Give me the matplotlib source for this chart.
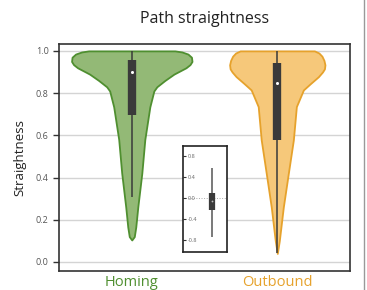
import numpy as np
import matplotlib
matplotlib.use("Agg")
import matplotlib.pyplot as plt

plt.rcParams['font.family'] = ['Open Sans', 'DejaVu Sans']

# categories and colours
groups = ['Homing', 'Outbound']
fill_cols = ['#93b976', '#f6c87a']
edge_cols = ['#4f8f30', '#e6a22c']

# violin outlines: y value and half width (in px, 145 px per unit)
homing_y = [1.0, 0.995, 0.985, 0.97, 0.95, 0.935, 0.92, 0.905, 0.89, 0.86, 0.83, 0.81,
            0.735, 0.58, 0.42, 0.26, 0.166, 0.12, 0.104]
homing_hw = [43, 50, 56, 59.5, 60, 58, 54, 48, 42, 33, 25, 22, 18, 13, 10, 6, 4, 2.5, 0]
outb_y = [1.0, 0.99, 0.975, 0.955, 0.934, 0.915, 0.90, 0.878, 0.845, 0.815, 0.736, 0.578,
          0.42, 0.26, 0.10, 0.04]
outb_hw = [37, 41.5, 44.5, 46.5, 47.5, 47, 45, 41, 33, 26, 19, 16, 11, 6, 2, 0]

# box stats: q1, q3, median, whisker low, whisker high
q1 = [0.697, 0.578]
q3 = [0.957, 0.945]
med = [0.90, 0.847]
wlo = [0.31, 0.04]
whi = [1.0, 1.0]

# inset box plot
ins_q1, ins_q3, ins_med, ins_lo, ins_hi = -0.23, 0.10, -0.045, -0.73, 0.58
ins_ticks = [0.8, 0.4, 0.0, -0.4, -0.8]

fig = plt.figure(figsize=(3.67, 2.90), dpi=100)
ax = fig.add_axes([0.1608, 0.0655, 0.793, 0.783])

profiles = [(homing_y, homing_hw), (outb_y, outb_hw)]
for i, (yy, hw) in enumerate(profiles):
    hw = np.array(hw) / 145.0
    ax.fill_betweenx(yy, i - hw, i + hw, facecolor=fill_cols[i], edgecolor=edge_cols[i],
                     linewidth=1.3, zorder=2)
    ax.vlines(i, wlo[i], whi[i], color='#3a3a3a', lw=1.1, zorder=3)
    ax.vlines(i, q1[i], q3[i], color='#3a3a3a', lw=6, zorder=3)
    ax.plot(i, med[i], 'o', ms=2.2, color='white', mec='none', zorder=4)

ax.set_xlim(-0.5, 1.5)
ax.set_ylim(-0.043, 1.033)
ax.set_yticks([0.0, 0.2, 0.4, 0.6, 0.8, 1.0])
ax.set_yticklabels(['0.0', '0.2', '0.4', '0.6', '0.8', '1.0'])
ax.grid(axis='y', color='#d4d4d4', lw=1.0, zorder=0)
ax.set_axisbelow(True)
ax.tick_params(axis='y', length=4, width=1, colors='#333333', labelsize=6.5, labelcolor='#555555')
ax.set_xticks([0, 1])
ax.set_xticklabels(groups, fontsize=10.5)
ax.tick_params(axis='x', length=0, pad=3)
for lbl, c in zip(ax.get_xticklabels(), edge_cols):
    lbl.set_color(c)
for s in ax.spines.values():
    s.set_color('#333333')
    s.set_linewidth(1.2)
ax.set_ylabel('Straightness', fontsize=9.5, color='#222222', labelpad=7)
ax.set_title('Path straightness', fontsize=11.5, color='#222222', pad=15)

# inset
ins = fig.add_axes([0.4995, 0.132, 0.118, 0.3645])
ins.set_xlim(-1, 0.5)
ins.set_ylim(-1.02, 1.0)
ins.axhline(0, color='#aaaaaa', lw=0.7, ls=':', zorder=1)
ins.vlines(0, ins_lo, ins_hi, color='#555555', lw=1.1, zorder=2)
ins.vlines(0, ins_q1, ins_q3, color='#3a3a3a', lw=4.5, zorder=3)
ins.plot(0, ins_med, 'o', ms=1.3, color='#bbbbbb', mec='none', zorder=4)
ins.set_xticks([])
ins.set_yticks(ins_ticks)
ins.set_yticklabels(['0.8', '0.4', '0.0', '-0.4', '-0.8'])
ins.tick_params(axis='y', direction='in', length=2.5, width=0.8, pad=-3.5,
                labelsize=4, labelcolor='#666666', colors='#333333')
for lbl in ins.get_yticklabels():
    lbl.set_horizontalalignment('left')
for s in ins.spines.values():
    s.set_color('#222222')
    s.set_linewidth(1.2)

# thin border line on the right edge of the image
fig.add_artist(plt.Line2D([0.993, 0.993], [0, 1], transform=fig.transFigure,
                          color='#999999', lw=1.0))

fig.savefig('out.png', dpi=100)
